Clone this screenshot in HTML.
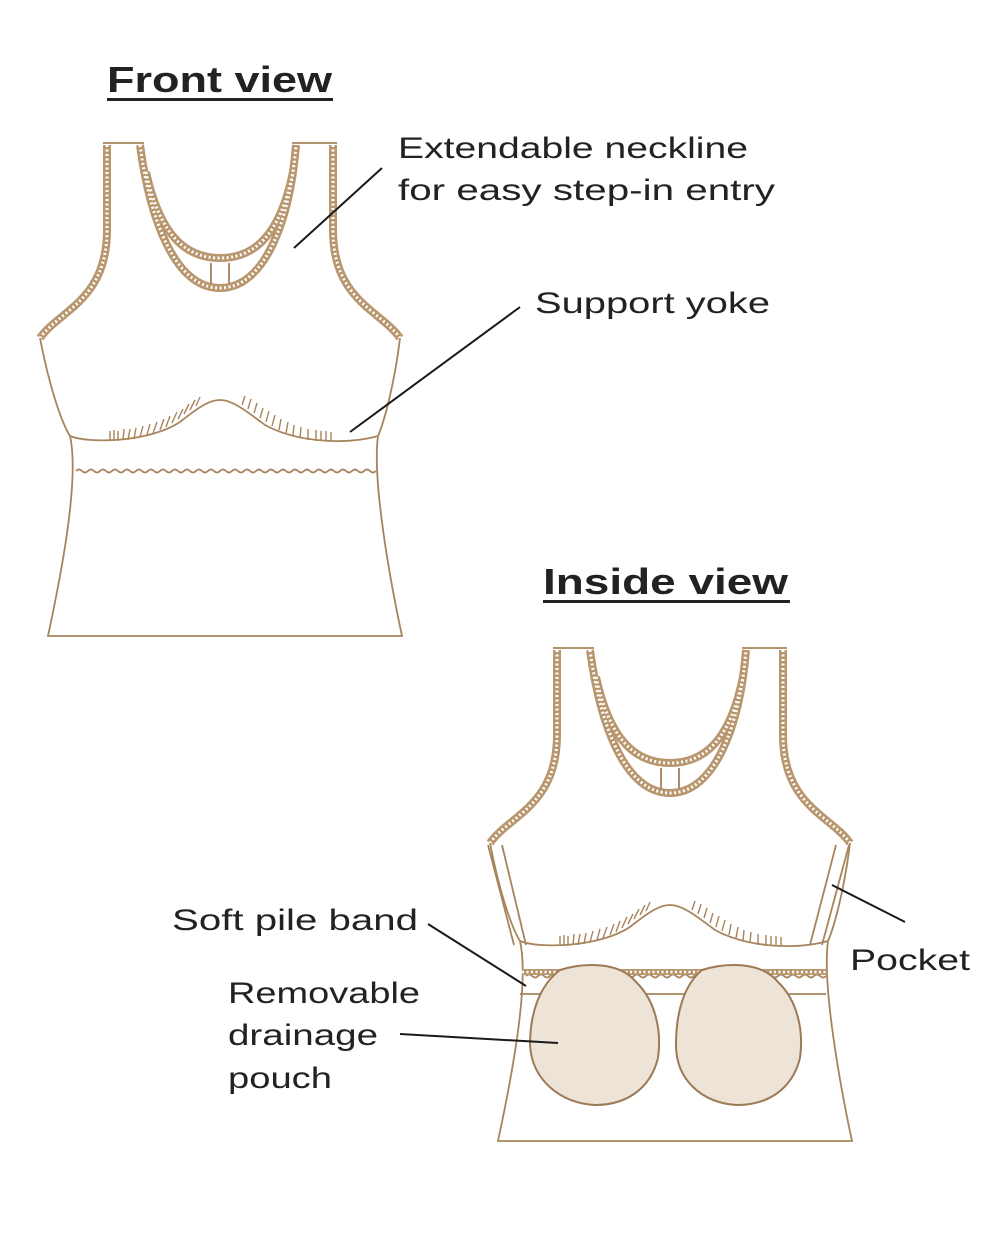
<!DOCTYPE html>
<html><head><meta charset="utf-8"><style>
html,body{margin:0;padding:0;background:#fff}
svg{display:block}
text{font-family:"Liberation Sans","DejaVu Sans",sans-serif;fill:#222}
</style></head><body>
<svg width="1000" height="1250" viewBox="0 0 1000 1250" xmlns="http://www.w3.org/2000/svg">
<defs>
<g id="top">
  <g fill="none" stroke-linecap="butt">
    <g stroke="#b8966e" stroke-width="8">
      <path d="M107,145 L107,230 C107,300 60,310 40,338"/>
      <path d="M333,145 L333,230 C333,300 380,310 400,338"/>
      <path d="M140,145 C150,220 175,288 220,288 C265,288 290,220 296,145"/>
      <path d="M146,172 C160,236 186,258 220,258 C254,258 280,236 293,172"/>
    </g>
    <g stroke="#fff" stroke-width="3" stroke-dasharray="2 2.5">
      <path d="M107,145 L107,230 C107,300 60,310 40,338"/>
      <path d="M333,145 L333,230 C333,300 380,310 400,338"/>
      <path d="M140,145 C150,220 175,288 220,288 C265,288 290,220 296,145"/>
      <path d="M146,172 C160,236 186,258 220,258 C254,258 280,236 293,172"/>
    </g>
  </g>
  <g fill="none" stroke="#a7845c" stroke-width="1.8">
    <path d="M103,143 L144,143 M292,143 L337,143"/>
    <path d="M211,263 L211,284 M229,263 L229,284"/>
    <path d="M40,338 C48,380 60,420 70,436 C80,480 60,580 48,636 L402,636 C390,580 372,480 378,436 C385,420 395,380 400,338"/>
    <path d="M70,436 C90,444 150,442 180,422 C200,406 210,400 220,400 C232,400 245,410 265,425 C300,444 350,444 378,436"/>
    <path d="M76,471 q3,-3 6,0 t6,0 t6,0 t6,0 t6,0 t6,0 t6,0 t6,0 t6,0 t6,0 t6,0 t6,0 t6,0 t6,0 t6,0 t6,0 t6,0 t6,0 t6,0 t6,0 t6,0 t6,0 t6,0 t6,0 t6,0 t6,0 t6,0 t6,0 t6,0 t6,0 t6,0 t6,0 t6,0 t6,0 t6,0 t6,0 t6,0 t6,0 t6,0 t6,0 t6,0 t6,0 t6,0 t6,0 t6,0 t6,0 t6,0 t6,0 t6,0 t6,0"/>
  </g>
  <g stroke="#a7845c" stroke-width="1.4" fill="none">
    <path d="M110,441 l0,-10 M114,441 l0,-11 M118,441 l0,-10 M123,440 l1,-11 M128,440 l2,-11 M134,439 l2,-11 M140,437 l3,-11 M147,435 l3,-11 M153,433 l4,-11 M160,430 l4,-11 M166,427 l4,-11 M172,423 l5,-11 M178,419 l5,-10 M184,414 l5,-10 M190,410 l5,-10 M196,406 l4,-9"/>
    <path d="M242,405 l3,-9 M248,409 l3,-10 M254,413 l3,-10 M260,418 l3,-10 M266,422 l3,-11 M272,426 l3,-11 M279,430 l2,-11 M286,433 l2,-11 M293,436 l1,-11 M300,438 l1,-11 M308,440 l0,-11 M316,441 l0,-11 M321,441 l0,-10 M326,441 l0,-10 M331,441 l0,-9"/>
  </g>
</g>
</defs>

<text x="107" y="92" font-size="36" font-weight="bold" textLength="225" lengthAdjust="spacingAndGlyphs">Front view</text>
<rect x="107" y="98" width="226" height="3" fill="#222"/>
<text x="543" y="594" font-size="36" font-weight="bold" textLength="245" lengthAdjust="spacingAndGlyphs">Inside view</text>
<rect x="543" y="600" width="247" height="3" fill="#222"/>

<use href="#top"/>
<g transform="translate(450,505)"><use href="#top"/></g>

<g fill="none" stroke="#a7845c" stroke-width="1.8">
  <path d="M488,845 L514,945 M502,845 L526,945"/>
  <path d="M849,845 L822,945 M836,845 L810,945"/>
  <path d="M520,994 L826,994"/>
</g>
<path d="M522,972 L826,972" stroke="#b8966e" stroke-width="6" fill="none"/>
<path d="M522,972 L826,972" stroke="#fff" stroke-width="2.5" stroke-dasharray="2 2.5" fill="none"/>
<g fill="#ede3d6" stroke="#9c7a55" stroke-width="2">
  <path d="M560,970 C585,962 620,962 636,982 C655,1000 662,1030 658,1058 C650,1090 625,1105 595,1105 C560,1103 532,1080 530,1045 C530,1012 540,985 560,970 Z"/>
  <path d="M702,970 C727,962 762,962 778,982 C797,1000 804,1030 800,1058 C792,1090 767,1105 737,1105 C702,1103 676,1080 676,1045 C676,1012 684,985 702,970 Z"/>
</g>

<g stroke="#1a1a1a" stroke-width="2" fill="none">
  <path d="M382,168 L294,248"/>
  <path d="M520,307 L350,432"/>
  <path d="M428,924 L526,986"/>
  <path d="M400,1034 L558,1043"/>
  <path d="M905,922 L832,885"/>
</g>

<g font-size="30">
  <text x="398" y="158" textLength="350" lengthAdjust="spacingAndGlyphs">Extendable neckline</text>
  <text x="398" y="200" textLength="377" lengthAdjust="spacingAndGlyphs">for easy step-in entry</text>
  <text x="535" y="313" textLength="235" lengthAdjust="spacingAndGlyphs">Support yoke</text>
  <text x="172" y="930" textLength="246" lengthAdjust="spacingAndGlyphs">Soft pile band</text>
  <text x="850" y="970" textLength="120" lengthAdjust="spacingAndGlyphs">Pocket</text>
  <text x="228" y="1003" textLength="192" lengthAdjust="spacingAndGlyphs">Removable</text>
  <text x="228" y="1045" textLength="150" lengthAdjust="spacingAndGlyphs">drainage</text>
  <text x="228" y="1088" textLength="104" lengthAdjust="spacingAndGlyphs">pouch</text>
</g>
</svg>
</body></html>
